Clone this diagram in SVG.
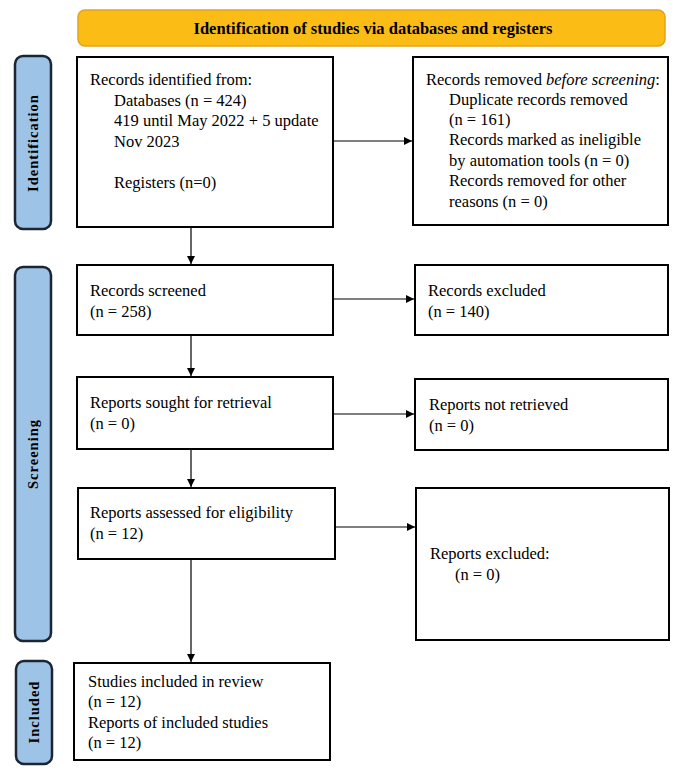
<svg xmlns="http://www.w3.org/2000/svg" width="680" height="772" viewBox="0 0 680 772">
<defs>
<style>
.box{fill:#fff;stroke:#000;stroke-width:2}
.side{fill:#9DC3E6;stroke:#1b2533;stroke-width:2.5}
.t{font-family:"Liberation Serif","Times New Roman",serif;font-size:16.5px;fill:#000}
.st{font-family:"Liberation Serif","Times New Roman",serif;font-size:14.5px;font-weight:bold;fill:#000;letter-spacing:1px}
.ln{stroke:#000;stroke-width:1.2;fill:none}
</style>
<marker id="ah" viewBox="0 0 10 10" refX="10" refY="5" markerWidth="8" markerHeight="8" markerUnits="userSpaceOnUse" orient="auto">
<path d="M0,0 L10,5 L0,10 z" fill="#000"/>
</marker>
</defs>
<rect width="680" height="772" fill="#fff"/>
<g id="banner">
<rect x="78" y="10" width="587" height="36" rx="7" fill="#FBBC15" stroke="#E3A21A" stroke-width="1.5"/>
<text x="373" y="34" text-anchor="middle" class="t" style="font-size:16.5px;font-weight:bold">Identification of studies via databases and registers</text>
</g>
<g id="side-identification">
<rect x="15" y="56" width="36" height="173" rx="8" class="side"/>
<text class="st" transform="translate(38,143) rotate(-90)" text-anchor="middle">Identification</text>
</g>
<g id="side-screening">
<rect x="15" y="267" width="36" height="374" rx="8" class="side"/>
<text class="st" transform="translate(38,454) rotate(-90)" text-anchor="middle">Screening</text>
</g>
<g id="side-included">
<rect x="16" y="661" width="36" height="103" rx="8" class="side"/>
<text class="st" transform="translate(39,712) rotate(-90)" text-anchor="middle">Included</text>
</g>
<g id="records-identified">
<rect x="77" y="57" width="256" height="170" class="box"/>
<text class="t" x="90" y="85">Records identified from:</text>
<text class="t" x="114" y="106">Databases (n = 424)</text>
<text class="t" x="114" y="126">419 until May 2022 + 5 update</text>
<text class="t" x="114" y="147">Nov 2023</text>
<text class="t" x="114" y="188">Registers (n=0)</text>
</g>
<g id="records-removed">
<rect x="413" y="57" width="255" height="168" class="box"/>
<text class="t" x="426" y="85">Records removed <tspan font-style="italic">before screening</tspan>:</text>
<text class="t" x="449" y="105">Duplicate records removed</text>
<text class="t" x="449" y="125">(n = 161)</text>
<text class="t" x="449" y="145">Records marked as ineligible</text>
<text class="t" x="449" y="166">by automation tools (n = 0)</text>
<text class="t" x="449" y="186">Records removed for other</text>
<text class="t" x="449" y="207">reasons (n = 0)</text>
</g>
<g id="records-screened">
<rect x="77" y="265" width="256" height="70" class="box"/>
<text class="t" x="90" y="296">Records screened</text>
<text class="t" x="90" y="317">(n = 258)</text>
</g>
<g id="records-excluded">
<rect x="415" y="265" width="253" height="70" class="box"/>
<text class="t" x="428" y="296">Records excluded</text>
<text class="t" x="428" y="317">(n = 140)</text>
</g>
<g id="reports-sought">
<rect x="77" y="377" width="256" height="72" class="box"/>
<text class="t" x="90" y="408">Reports sought for retrieval</text>
<text class="t" x="90" y="429">(n = 0)</text>
</g>
<g id="reports-not-retrieved">
<rect x="415" y="379" width="253" height="71" class="box"/>
<text class="t" x="429" y="410">Reports not retrieved</text>
<text class="t" x="429" y="431">(n = 0)</text>
</g>
<g id="reports-assessed">
<rect x="78" y="488" width="257" height="71" class="box"/>
<text class="t" x="90" y="518">Reports assessed for eligibility</text>
<text class="t" x="90" y="539">(n = 12)</text>
</g>
<g id="reports-excluded">
<rect x="416" y="488" width="253" height="152" class="box"/>
<text class="t" x="430" y="559">Reports excluded:</text>
<text class="t" x="455" y="580">(n = 0)</text>
</g>
<g id="studies-included">
<rect x="74" y="663" width="256" height="97" class="box"/>
<text class="t" x="88" y="687">Studies included in review</text>
<text class="t" x="88" y="707">(n = 12)</text>
<text class="t" x="88" y="728">Reports of included studies</text>
<text class="t" x="88" y="748">(n = 12)</text>
</g>
<g id="connectors">
<line class="ln" x1="333" y1="141" x2="412" y2="141" marker-end="url(#ah)"/>
<line class="ln" x1="191" y1="227" x2="191" y2="264" marker-end="url(#ah)"/>
<line class="ln" x1="333" y1="299" x2="414" y2="299" marker-end="url(#ah)"/>
<line class="ln" x1="191" y1="335" x2="191" y2="376" marker-end="url(#ah)"/>
<line class="ln" x1="333" y1="414" x2="414" y2="414" marker-end="url(#ah)"/>
<line class="ln" x1="191" y1="449" x2="191" y2="487" marker-end="url(#ah)"/>
<line class="ln" x1="335" y1="527" x2="415" y2="527" marker-end="url(#ah)"/>
<line class="ln" x1="191" y1="559" x2="191" y2="662" marker-end="url(#ah)"/>
</g>
</svg>
